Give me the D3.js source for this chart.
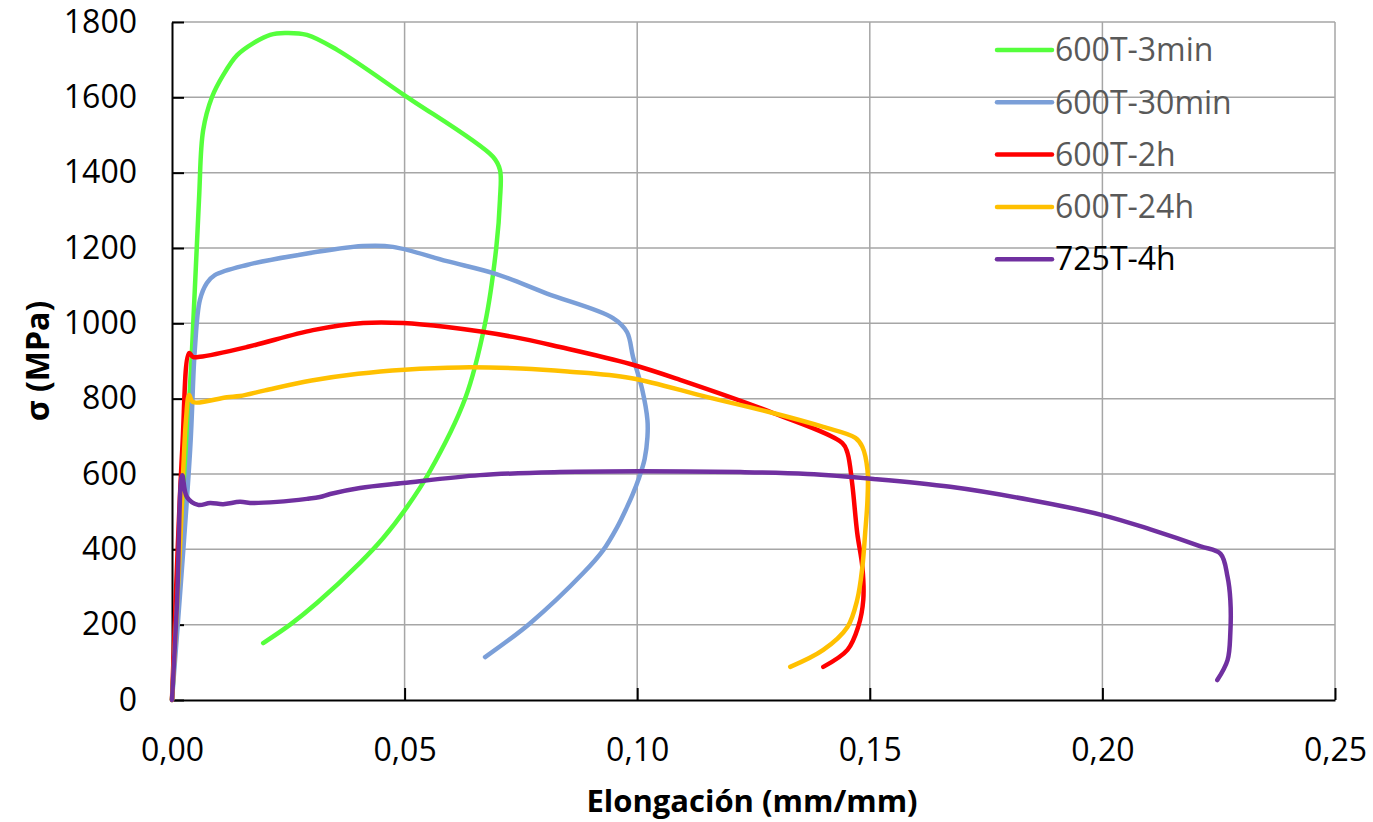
<!DOCTYPE html>
<html>
<head>
<meta charset="utf-8">
<title>Curvas tension-elongacion</title>
<script src="https://d3js.org/d3.v7.min.js"></script>
<style>
  body { margin: 0; background: #fff; }
  text { font-family: "Open Sans", sans-serif; }
</style>
</head>
<body>
<svg class="chart"></svg>
<script>
// series names and colours
var names = ["600T-3min", "600T-30min", "600T-2h", "600T-24h", "725T-4h"];
var colors = ["#55ff3c", "#7b9fd8", "#ff0000", "#ffc000", "#7030a0"];
var legendColors = ["#595959", "#595959", "#595959", "#595959", "#000000"];

// strain (mm/mm) and stress (MPa)
var strain3min = [0, 0.0043, 0.0058, 0.0067, 0.0086, 0.0110, 0.0140, 0.0175, 0.0211, 0.0243, 0.0290, 0.0355, 0.0499, 0.0690, 0.0705, 0.0705, 0.0697, 0.0673, 0.0630, 0.0551, 0.0505, 0.0454, 0.0404, 0.0312, 0.0254, 0.0196];
var stress3min = [0, 929, 1328, 1513, 1601, 1659, 1712, 1744, 1766, 1771, 1766, 1726, 1606, 1442, 1407, 1328, 1200, 1000, 800, 600, 512, 430, 364, 258, 200, 151];

var strain30min = [0, 0.0039, 0.0049, 0.0060, 0.0075, 0.0092, 0.0161, 0.0269, 0.0411, 0.0475, 0.0591, 0.0699, 0.0806, 0.0948, 0.0978, 0.0991, 0.1011, 0.1022, 0.1022, 0.1016, 0.1004, 0.0990, 0.0978, 0.0957, 0.0927, 0.0884, 0.0770, 0.0673];
var stress30min = [0, 664, 929, 1062, 1107, 1128, 1155, 1181, 1205, 1203, 1165, 1130, 1079, 1014, 977, 911, 823, 743, 698, 640, 590, 545, 512, 459, 398, 337, 204, 114];

var strain2h = [0, 0.0022, 0.0037, 0.0045, 0.0060, 0.0161, 0.0303, 0.0411, 0.0497, 0.0591, 0.0733, 0.0834, 0.0985, 0.1092, 0.1292, 0.1441, 0.1452, 0.1462, 0.1473, 0.1484, 0.1486, 0.1475, 0.1452, 0.1400];
var stress2h = [0, 664, 921, 911, 911, 937, 982, 1001, 1001, 990, 964, 937, 892, 850, 762, 682, 656, 576, 443, 353, 266, 194, 133, 88];

var strain24h = [0, 0.0017, 0.0030, 0.0037, 0.0045, 0.0118, 0.0146, 0.0200, 0.0300, 0.0400, 0.0500, 0.0620, 0.0750, 0.0850, 0.0985, 0.1151, 0.1292, 0.1400, 0.1469, 0.1484, 0.1495, 0.1495, 0.1490, 0.1484, 0.1473, 0.1452, 0.1400, 0.1329];
var stress24h = [0, 398, 743, 810, 791, 804, 807, 822, 848, 866, 877, 883, 880, 872, 855, 804, 762, 725, 696, 672, 611, 531, 443, 353, 266, 194, 133, 88];

var strain4h = [0, 0.0011, 0.0022, 0.0032, 0.0056, 0.0082, 0.0110, 0.0146, 0.0174, 0.0226, 0.0290, 0.0318, 0.0340, 0.0404, 0.0497, 0.0662, 0.0834, 0.1006, 0.1222, 0.1366, 0.1508, 0.1673, 0.1845, 0.2000, 0.2103, 0.2211, 0.2254, 0.2269, 0.2275, 0.2275, 0.2269, 0.2247];
var stress4h = [0, 266, 597, 539, 518, 523, 520, 526, 523, 526, 534, 539, 547, 563, 576, 597, 605, 607, 605, 600, 587, 566, 531, 491, 453, 408, 388, 327, 266, 178, 106, 53];

var strains = [strain3min, strain30min, strain2h, strain24h, strain4h];
var stresses = [stress3min, stress30min, stress2h, stress24h, stress4h];

// tick values
var xTicks = [0, 0.05, 0.10, 0.15, 0.20, 0.25];
var yTicks = [0, 200, 400, 600, 800, 1000, 1200, 1400, 1600, 1800];

var svgWidth = 1373, svgHeight = 822;
var margin = {top: 22, right: 38, bottom: 122, left: 172};
var width = svgWidth - margin.left - margin.right;
var height = svgHeight - margin.top - margin.bottom;

var svg = d3.select(".chart")
    .attr("width", svgWidth)
    .attr("height", svgHeight);

var chart = svg.append("g")
    .attr("transform", "translate(" + margin.left + "," + margin.top + ")");

var xScale = d3.scaleLinear().domain([0, 0.25]).range([0, width]);
var yScale = d3.scaleLinear().domain([0, 1800]).range([height, 0]);

var fmtX = function(d) { return d3.format(".2f")(d).replace(".", ","); };

// gridlines
chart.append("g").selectAll("line")
    .data(yTicks.slice(1)).enter().append("line")
        .attr("x1", 0).attr("x2", width)
        .attr("y1", d => yScale(d)).attr("y2", d => yScale(d))
        .attr("stroke", "#a6a6a6").attr("stroke-width", 1.5);
chart.append("g").selectAll("line")
    .data(xTicks.slice(1)).enter().append("line")
        .attr("x1", d => xScale(d)).attr("x2", d => xScale(d))
        .attr("y1", 0).attr("y2", height)
        .attr("stroke", "#a6a6a6").attr("stroke-width", 1.5);

// axes, ticks pointing inside
var xAxis = d3.axisBottom(xScale).tickValues(xTicks).tickFormat(fmtX).tickSizeInner(-12).tickSizeOuter(0);
var yAxis = d3.axisLeft(yScale).tickValues(yTicks).tickFormat(d3.format("d")).tickSizeInner(-12).tickSizeOuter(0);

var gx = chart.append("g")
    .attr("transform", "translate(0," + height + ")")
    .call(xAxis);
var gy = chart.append("g").call(yAxis);

[gx, gy].forEach(function(g) {
    g.select(".domain").attr("stroke", "#000").attr("stroke-width", 2);
    g.selectAll(".tick line").attr("stroke", "#000").attr("stroke-width", 2);
    g.selectAll(".tick text").attr("fill", "#000").style("font-size", "32px")
        .style("font-family", "'Open Sans', sans-serif");
});
gx.selectAll(".tick text").attr("dy", "0.35em").attr("y", 50);
gy.selectAll(".tick text").attr("x", -35);

// axis titles
svg.append("text")
    .attr("x", 752)
    .attr("y", 812)
    .attr("text-anchor", "middle")
    .style("font-size", "31px").style("font-weight", "bold")
    .text("Elongación (mm/mm)");

svg.append("text")
    .attr("transform", "translate(49,361) rotate(-90)")
    .attr("text-anchor", "middle")
    .style("font-size", "32px").style("font-weight", "bold")
    .text("σ (MPa)");

// curves
var line = d3.line()
    .x(d => xScale(d[0]))
    .y(d => yScale(d[1]))
    .curve(d3.curveCatmullRom.alpha(0.5));

var series = names.map(function(n, i) {
    return { name: n, color: colors[i], points: d3.zip(strains[i], stresses[i]) };
});

chart.selectAll(".curve")
    .data(series).enter().append("path")
        .attr("class", "curve")
        .attr("d", d => line(d.points))
        .attr("fill", "none")
        .attr("stroke", d => d.color)
        .attr("stroke-width", 4.5)
        .attr("stroke-linecap", "round")
        .attr("stroke-linejoin", "round");

// legend
var legend = svg.append("g").attr("transform", "translate(997,50)");
var items = legend.selectAll(".item")
    .data(series).enter().append("g")
        .attr("class", "item")
        .attr("transform", (d, i) => "translate(0," + (i * 52.3) + ")");
items.append("line")
    .attr("x1", 0).attr("x2", 55)
    .attr("stroke", d => d.color).attr("stroke-width", 4.5)
    .attr("stroke-linecap", "round");
items.append("text")
    .attr("x", 58).attr("dy", "0.35em")
    .attr("fill", (d, i) => legendColors[i])
    .style("font-size", "32px")
    .text(d => d.name);
</script>
</body>
</html>
